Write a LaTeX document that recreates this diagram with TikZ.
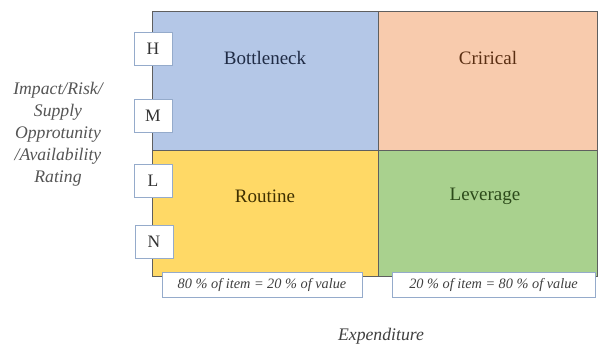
\documentclass[tikz,border=0pt]{standalone}
\usepackage{fontspec}
\setmainfont{Liberation Serif}
\definecolor{qblue}{HTML}{B4C7E7}
\definecolor{qorange}{HTML}{F8CBAD}
\definecolor{qyellow}{HTML}{FFD966}
\definecolor{qgreen}{HTML}{A9D18E}
\definecolor{tblue}{HTML}{1F2B45}
\definecolor{torange}{HTML}{5A2E12}
\definecolor{tyellow}{HTML}{3F3000}
\definecolor{tgreen}{HTML}{2C4A1A}
\definecolor{frame}{HTML}{5F5F5F}
\definecolor{boxline}{HTML}{95ABCB}
\definecolor{axisgray}{HTML}{555555}
\tikzset{
  quad/.style={draw=frame, line width=1pt, anchor=north west, inner sep=0pt},
  qlabel/.style={font=\fontsize{19}{22}\selectfont, inner sep=0pt},
  levelbox/.style={draw=boxline, fill=white, line width=1pt, minimum width=38pt, minimum height=33pt, inner sep=0pt, font=\fontsize{17.5}{19}\selectfont, text=black!80},
  notebox/.style={draw=boxline, fill=white, line width=1pt, minimum height=25pt, inner sep=0pt, font=\itshape\fontsize{14.3}{16}\selectfont, text=black!75},
  axislabel/.style={font=\itshape\fontsize{17.7}{22}\selectfont, text=axisgray, align=center, inner sep=0pt}
}
\begin{document}
\begin{tikzpicture}[x=1pt,y=-1pt]
\useasboundingbox[fill=white] (0,0) rectangle (599,346);
% quadrants
\node[quad, fill=qblue, minimum width=226pt, minimum height=139pt] (bottleneck) at (152,11) {};
\node[quad, fill=qorange, minimum width=219pt, minimum height=139pt] (critical) at (378,11) {};
\node[quad, fill=qyellow, minimum width=226pt, minimum height=126pt] (routine) at (152,150) {};
\node[quad, fill=qgreen, minimum width=219pt, minimum height=126pt] (leverage) at (378,150) {};
% quadrant labels
\node[qlabel, text=tblue] (tbottleneck) at (265,58) {Bottleneck};
\node[qlabel, text=torange] (tcritical) at (488,58) {Crirical};
\node[qlabel, text=tyellow] (troutine) at (265,196) {Routine};
\node[qlabel, text=tgreen] (tleverage) at (485,196) {Leverage};
% level boxes
\node[levelbox] (H) at (153,48.5) {H};
\node[levelbox] (M) at (153,115.5) {M};
\node[levelbox] (L) at (153,181) {L};
\node[levelbox] (N) at (154,241.5) {N};
% note boxes
\node[notebox, minimum width=200pt] (note1) at (262,284.5) {80 \% of item = 20 \% of value};
\node[notebox, minimum width=203pt] (note2) at (493.5,284.5) {20 \% of item = 80 \% of value};
% axis labels
\node[axislabel] (yaxis) at (58,134) {Impact/Risk/\\Supply\\Opprotunity\\/Availability\\Rating};
\node[axislabel, text=black!75] (xaxis) at (381,336) {Expenditure};
\end{tikzpicture}
\end{document}
